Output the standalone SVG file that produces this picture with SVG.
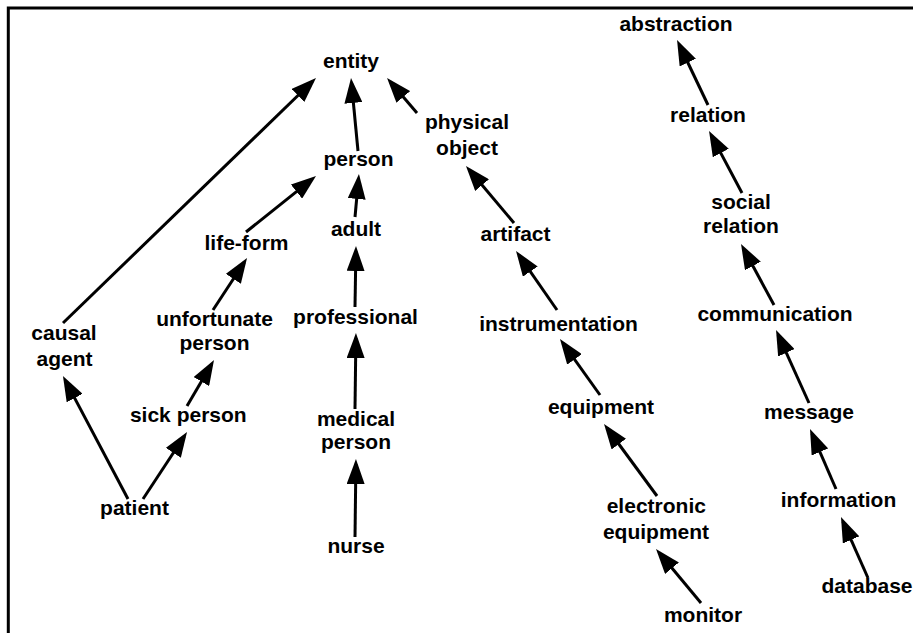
<svg xmlns="http://www.w3.org/2000/svg" width="913" height="633" viewBox="0 0 913 633">
<style>
text{font-family:"Liberation Sans",Arial,sans-serif;font-weight:bold;font-size:21px;fill:#000;text-anchor:middle}
.c line{stroke:#000;stroke-width:3;marker-end:url(#ah)}
</style>
<defs>
<marker id="ah" markerUnits="userSpaceOnUse" markerWidth="25" markerHeight="18" refX="20" refY="9" orient="auto">
<path d="M0,0 L25,9 L0,18 z" fill="#000"/>
</marker>
</defs>
<rect width="913" height="633" fill="#fff"/>
<path d="M8.3,633 V8 H913" fill="none" stroke="#000" stroke-width="3"/>
<g id="entity"><text x="351" y="68">entity</text></g>
<g id="person"><text x="358.5" y="166">person</text></g>
<g id="physical-object"><text x="467" y="129">physical</text><text x="467" y="155">object</text></g>
<g id="adult"><text x="356" y="235.5">adult</text></g>
<g id="life-form"><text x="246.5" y="250">life-form</text></g>
<g id="abstraction"><text x="676" y="31">abstraction</text></g>
<g id="relation"><text x="708" y="121.5">relation</text></g>
<g id="social-relation"><text x="741" y="209">social</text><text x="741" y="233">relation</text></g>
<g id="artifact"><text x="515.5" y="241">artifact</text></g>
<g id="communication"><text x="775" y="321">communication</text></g>
<g id="instrumentation"><text x="558.5" y="331">instrumentation</text></g>
<g id="causal-agent"><text x="64" y="339.5">causal</text><text x="64.5" y="366">agent</text></g>
<g id="unfortunate-person"><text x="214.5" y="326">unfortunate</text><text x="214.5" y="349.5">person</text></g>
<g id="professional"><text x="355.5" y="324">professional</text></g>
<g id="sick-person"><text x="188.3" y="422">sick person</text></g>
<g id="medical-person"><text x="356" y="425.5">medical</text><text x="356" y="449">person</text></g>
<g id="patient"><text x="134.5" y="515">patient</text></g>
<g id="nurse"><text x="356" y="553">nurse</text></g>
<g id="equipment"><text x="601" y="414">equipment</text></g>
<g id="message"><text x="809" y="419">message</text></g>
<g id="electronic-equipment"><text x="656.3" y="513">electronic</text><text x="656" y="538.5">equipment</text></g>
<g id="information"><text x="838.5" y="507">information</text></g>
<g id="monitor"><text x="703" y="622">monitor</text></g>
<g id="database"><text x="867" y="593">database</text></g>
<g id="connectors" class="c">
<line x1="63" y1="323" x2="312.4" y2="81.5"/>
<line x1="358" y1="151" x2="351.5" y2="83"/>
<line x1="417" y1="113" x2="390.3" y2="81.8"/>
<line x1="246" y1="232" x2="312.1" y2="179.1"/>
<line x1="355" y1="217" x2="358.5" y2="179"/>
<line x1="355" y1="307" x2="355.9" y2="251"/>
<line x1="213" y1="310" x2="244.3" y2="262.2"/>
<line x1="708" y1="105" x2="679.2" y2="44.5"/>
<line x1="742" y1="193" x2="711.4" y2="135.4"/>
<line x1="774" y1="305" x2="743.4" y2="248.4"/>
<line x1="514" y1="223" x2="469.2" y2="169.8"/>
<line x1="557" y1="310" x2="518.9" y2="255.1"/>
<line x1="128" y1="499" x2="65.3" y2="380.4"/>
<line x1="143" y1="499" x2="184.3" y2="436.2"/>
<line x1="187" y1="406" x2="211.5" y2="364.3"/>
<line x1="355" y1="409" x2="355.9" y2="338"/>
<line x1="355" y1="537" x2="355.9" y2="464"/>
<line x1="600" y1="395" x2="562.9" y2="343.1"/>
<line x1="657" y1="496" x2="607" y2="428"/>
<line x1="701" y1="603" x2="659.2" y2="552.8"/>
<line x1="809" y1="403" x2="778.1" y2="334.6"/>
<line x1="836" y1="489" x2="812" y2="433.6"/>
<line x1="868" y1="578" x2="843" y2="521.6"/>
</g>
</svg>
